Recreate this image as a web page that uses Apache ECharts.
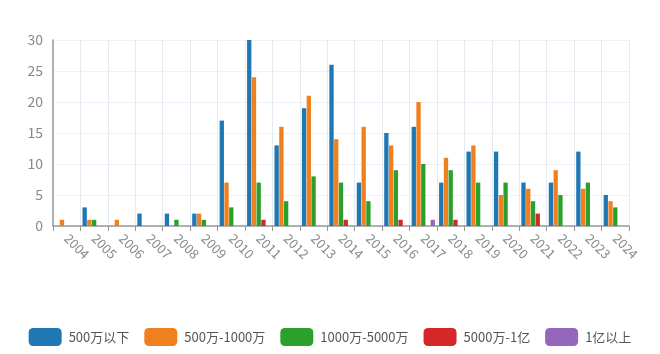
<!DOCTYPE html>
<html>
<head>
<meta charset="utf-8">
<script src="https://cdn.jsdelivr.net/npm/echarts@6/dist/echarts.min.js"></script>
<style>
  html, body { margin: 0; padding: 0; background: #fff; }
  #chart { width: 660px; height: 354px; }
</style>
</head>
<body>
<div id="chart"></div>
<script>
// 年份
const years = ["2004", "2005", "2006", "2007", "2008", "2009", "2010", "2011", "2012", "2013", "2014",
  "2015", "2016", "2017", "2018", "2019", "2020", "2021", "2022", "2023", "2024"];
const seriesNames = ["500万以下", "500万-1000万", "1000万-5000万", "5000万-1亿", "1亿以上"];
const below500 = [0, 3, 0, 2, 2, 2, 17, 30, 13, 19, 26, 7, 15, 16, 7, 12, 12, 7, 7, 12, 5];
const from500to1000 = [1, 1, 1, 0, 0, 2, 7, 24, 16, 21, 14, 16, 13, 20, 11, 13, 5, 6, 9, 6, 4];
const from1000to5000 = [0, 1, 0, 0, 1, 1, 3, 7, 4, 8, 7, 4, 9, 10, 9, 7, 7, 4, 5, 7, 3];
const from5000to1yi = [0, 0, 0, 0, 0, 0, 0, 1, 0, 0, 1, 0, 1, 0, 1, 0, 0, 2, 0, 0, 0];
const above1yi = [0, 0, 0, 0, 0, 0, 0, 0, 0, 0, 0, 0, 0, 1, 0, 0, 0, 0, 0, 0, 0];
const colors = ["#1f77b4", "#f07f1e", "#2ca02c", "#d62728", "#9467bd"];

const chart = echarts.init(document.getElementById("chart"));
const allData = [below500, from500to1000, from1000to5000, from5000to1yi, above1yi];

chart.setOption({
  color: colors,
  textStyle: { fontFamily: "Noto Sans CJK SC" },
  grid: {
    top: 40,
    left: 53,
    right: 31,
    bottom: 128
  },
  legend: {
    top: 323,
    left: "center",
    itemWidth: 33,
    itemHeight: 18,
    itemGap: 15,
    textStyle: { fontSize: 13, color: "#555", padding: [0, 0, 0, 2] },
    data: seriesNames
  },
  xAxis: {
    type: "category",
    boundaryGap: true,
    data: years,
    axisLine: { lineStyle: { color: "#999", width: 1.5 } },
    axisTick: { show: true, length: 5, lineStyle: { color: "#999" } },
    axisLabel: {
      rotate: -45,
      interval: 0,
      color: "#888",
      fontSize: 13,
      margin: 10
    },
    splitLine: { show: true, lineStyle: { color: "#e4ebf2" } }
  },
  yAxis: {
    type: "value",
    min: 0,
    max: 30,
    interval: 5,
    axisLine: { show: true, lineStyle: { color: "#999", width: 1.5 } },
    axisTick: { show: false },
    axisLabel: { color: "#888", fontSize: 14, margin: 10 },
    splitLine: { lineStyle: { color: "#eef2f6" } }
  },
  series: seriesNames.map((name, i) => ({
    name: name,
    type: "bar",
    data: allData[i]
  }))
});
</script>
</body>
</html>
